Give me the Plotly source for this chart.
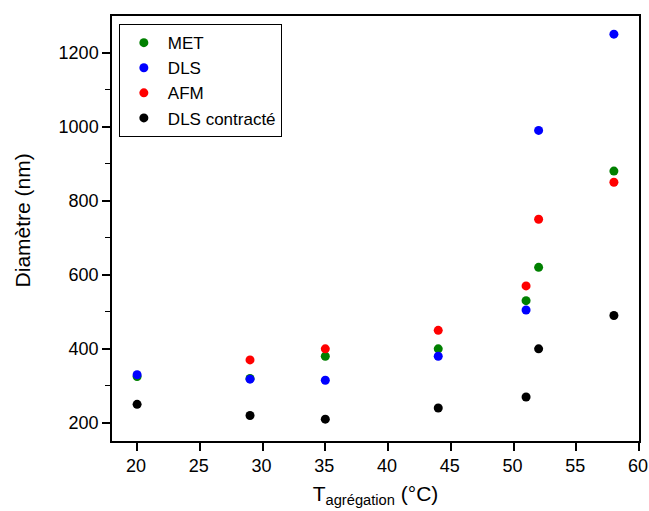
import plotly.graph_objects as go

met_x = [20, 29, 35, 44, 51, 52, 58]
met_y = [325, 320, 380, 400, 530, 620, 880]
dls_x = [20, 29, 35, 44, 51, 52, 58]
dls_y = [330, 318, 315, 380, 505, 990, 1250]
afm_x = [29, 35, 44, 51, 52, 58]
afm_y = [370, 400, 450, 570, 750, 850]
dlsc_x = [20, 29, 35, 44, 51, 52, 58]
dlsc_y = [250, 220, 210, 240, 270, 400, 490]

series = [
    ("MET", met_x, met_y, "#008000"),
    ("DLS", dls_x, dls_y, "#0000ff"),
    ("AFM", afm_x, afm_y, "#ff0000"),
    ("DLS contracté", dlsc_x, dlsc_y, "#000000"),
]

fig = go.Figure()
for name, xs, ys, c in series:
    fig.add_trace(go.Scatter(x=xs, y=ys, mode="markers", name=name,
                             marker=dict(color=c, size=9, line=dict(width=0))))

font = "Liberation Sans, Arial, sans-serif"
fig.update_layout(
    width=649, height=511,
    margin=dict(l=112, r=10, t=16, b=70, autoexpand=False),
    paper_bgcolor="white", plot_bgcolor="white",
    font=dict(family=font, size=18, color="black"),
    showlegend=True,
    legend=dict(x=0.013, y=0.981, xanchor="left", yanchor="top",
                bordercolor="black", borderwidth=1, bgcolor="white",
                font=dict(size=17, family=font), tracegroupgap=0,
                itemwidth=38),
    xaxis=dict(range=[18, 60], tickvals=[20, 25, 30, 35, 40, 45, 50, 55, 60],
               ticks="outside", ticklen=8, tickwidth=1.5, tickcolor="black",
               showline=True, linecolor="black", linewidth=1.5, mirror=True,
               showgrid=False, zeroline=False, automargin=False,
               ticklabeloverflow="allow", ticklabelshift=-1,
               tickfont=dict(size=18),
               title=dict(text="T<sub>agrégation</sub> (°C)", font=dict(size=21), standoff=11)),
    yaxis=dict(range=[151, 1299], tickvals=[200, 400, 600, 800, 1000, 1200],
               ticks="outside", ticklen=8, tickwidth=1.5, tickcolor="black",
               minor=dict(tickvals=[300, 500, 700, 900, 1100], ticks="outside",
                          ticklen=5, tickcolor="black", tickwidth=1),
               showline=True, linecolor="black", linewidth=1.5, mirror=True,
               showgrid=False, zeroline=False, automargin=False,
               ticklabeloverflow="allow",
               tickfont=dict(size=18)),
    annotations=[dict(text="Diamètre (nm)", textangle=-90, xref="paper", yref="paper",
                      x=-0.17, y=0.52, xanchor="center", yanchor="middle",
                      showarrow=False, font=dict(size=21))],
)

fig.write_html("out.html", config={"displayModeBar": False},
               post_script="document.body.style.margin='0';document.body.style.overflow='hidden';")
